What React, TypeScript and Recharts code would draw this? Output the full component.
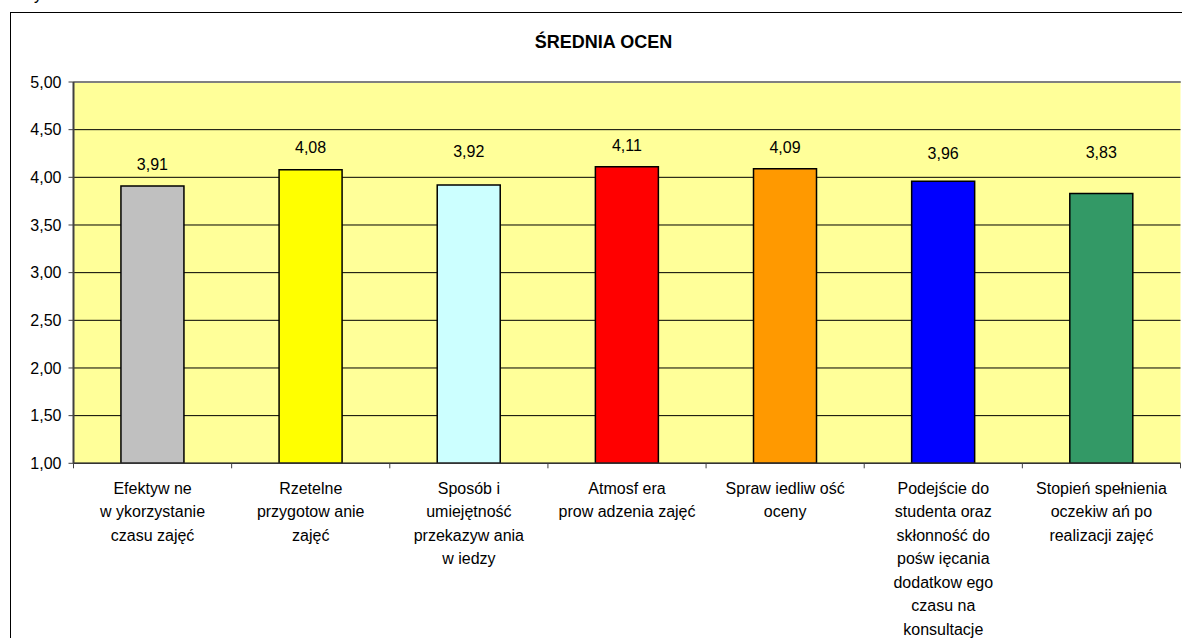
import { BarChart, Bar, XAxis, YAxis, CartesianGrid, ReferenceLine, LabelList, Cell } from 'recharts';

const categories: string[][] = [
  ['Efektyw ne', 'w ykorzystanie', 'czasu zajęć'],
  ['Rzetelne', 'przygotow anie', 'zajęć'],
  ['Sposób i', 'umiejętność', 'przekazyw ania', 'w iedzy'],
  ['Atmosf era', 'prow adzenia zajęć'],
  ['Spraw iedliw ość', 'oceny'],
  ['Podejście do', 'studenta oraz', 'skłonność do', 'pośw ięcania', 'dodatkow ego', 'czasu na', 'konsultacje'],
  ['Stopień spełnienia', 'oczekiw ań po', 'realizacji zajęć'],
];

const values = [3.91, 4.08, 3.92, 4.11, 4.09, 3.96, 3.83];

const yTicks = [1, 1.5, 2, 2.5, 3, 3.5, 4, 4.5, 5];

const BAR_COLORS = ['#C0C0C0', '#FFFF00', '#CCFFFF', '#FF0000', '#FF9900', '#0000FF', '#339966'];
// labels were nudged by hand in the original, so gap above each bar differs
const LABEL_GAPS = [15.5, 16.5, 27.5, 15.5, 15.5, 22, 36];

const FONT = 'Arial, "Liberation Sans", sans-serif';

const data = categories.map((lines, i) => ({ name: lines.join(' '), value: values[i] }));

const fmt = (v: number) => v.toFixed(2).replace('.', ',');

function CategoryTick(props: any) {
  const { x, y, index, width, visibleTicksCount } = props;
  const half = width / (visibleTicksCount || categories.length) / 2;
  const lines = categories[index] || [];
  return (
    <g>
      <line x1={x - half} y1={y} x2={x - half} y2={y + 5} stroke="#404040" strokeWidth={1} />
      {index === categories.length - 1 && (
        <line x1={x + half} y1={y} x2={x + half} y2={y + 5} stroke="#404040" strokeWidth={1} />
      )}
      <text textAnchor="middle" fill="#000" fontSize={16} fontFamily={FONT}>
        {lines.map((l, i) => (
          <tspan key={i} x={x} y={y + 30.5 + i * 23.5}>
            {l}
          </tspan>
        ))}
      </text>
    </g>
  );
}

function ValueLabel(props: any) {
  const { x, y, width, value, index } = props;
  const gap = LABEL_GAPS[index] ?? 15;
  return (
    <text x={x + width / 2} y={y - gap} textAnchor="middle" fill="#000" fontSize={16} fontFamily={FONT}>
      {fmt(Number(value))}
    </text>
  );
}

export default function App() {
  return (
    <div style={{ position: 'absolute', left: 0, top: 0, width: 1182, height: 638, overflow: 'hidden', background: '#fff' }}>
      <div
        style={{ position: 'absolute', left: 34, top: -14, fontFamily: FONT, fontSize: 16, lineHeight: 'normal', color: '#000' }}
      >
        y
      </div>
      <div
        style={{ position: 'absolute', left: 10, top: 12, width: 1300, height: 800, border: '1px solid #000' }}
      />
      <div
        style={{
          position: 'absolute',
          left: 0,
          top: 30,
          width: 1207,
          textAlign: 'center',
          fontFamily: FONT,
          fontSize: 18,
          fontWeight: 'bold',
          color: '#000',
          lineHeight: '24px',
        }}
      >
        ŚREDNIA OCEN
      </div>
      <div style={{ position: 'absolute', left: 0, top: 0 }}>
        <BarChart
          width={1182}
          height={638}
          data={data}
          margin={{ top: 82, right: 1.5, left: 10, bottom: 0 }}
          barCategoryGap="30%"
        >
          <CartesianGrid vertical={false} fill="#FFFF99" fillOpacity={1} stroke="#000" strokeWidth={1} />
          <XAxis
            dataKey="name"
            height={174.7}
            interval={0}
            tickLine={false}
            tickSize={0}
            tickMargin={0}
            axisLine={{ stroke: '#333', strokeWidth: 1.5 }}
            tick={<CategoryTick />}
          />
          <YAxis
            width={63.5}
            domain={[1, 5]}
            ticks={yTicks}
            interval={0}
            tickSize={5}
            tickMargin={7}
            tickFormatter={fmt}
            tick={{ fill: '#000', fontSize: 16, fontFamily: FONT }}
            tickLine={{ stroke: '#404040' }}
            axisLine={{ stroke: '#404040', strokeWidth: 2 }}
          />
          <YAxis
            yAxisId="r"
            orientation="right"
            width={0}
            domain={[1, 5]}
            tick={false}
            tickLine={false}
            axisLine={{ stroke: '#808080', strokeWidth: 2 }}
          />
          <ReferenceLine y={5} stroke="#808080" strokeWidth={2} />
          <Bar dataKey="value" stroke="#000" strokeWidth={1.5} isAnimationActive={false}>
            {data.map((d, i) => (
              <Cell key={i} fill={BAR_COLORS[i]} />
            ))}
            <LabelList dataKey="value" content={<ValueLabel />} />
          </Bar>
        </BarChart>
      </div>
    </div>
  );
}
